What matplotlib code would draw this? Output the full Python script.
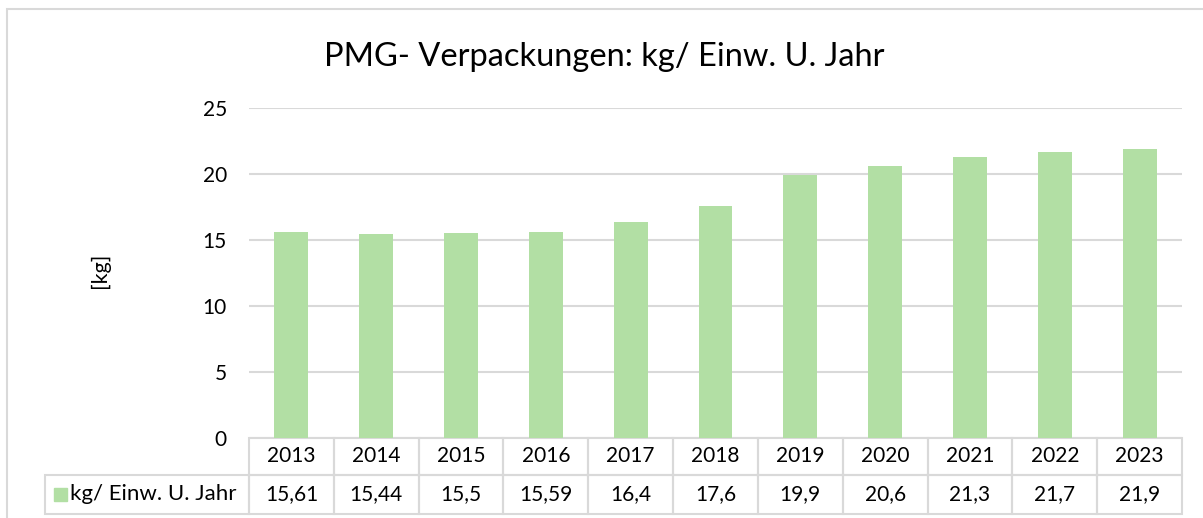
import matplotlib
matplotlib.use('Agg')
import matplotlib.pyplot as plt
from matplotlib.patches import Rectangle
from matplotlib.transforms import blended_transform_factory

# data
years = ["2013", "2014", "2015", "2016", "2017", "2018", "2019", "2020", "2021", "2022", "2023"]
values = [15.61, 15.44, 15.5, 15.59, 16.4, 17.6, 19.9, 20.6, 21.3, 21.7, 21.9]
value_labels = ["15,61", "15,44", "15,5", "15,59", "16,4", "17,6", "19,9", "20,6", "21,3", "21,7", "21,9"]
series_name = "kg/ Einw. U. Jahr"
title = "PMG- Verpackungen: kg/ Einw. U. Jahr"

W, H = 1203, 518
bar_color = "#B2DFA4"
grid_color = "#D9D9D9"
plt.rcParams['font.family'] = ['Lato', 'DejaVu Sans']

fig = plt.figure(figsize=(W / 100, H / 100), dpi=100)

# axes box in pixels
x0, x1 = 249, 1182
y_top, y_bot = 108, 438
ax = fig.add_axes([x0 / W, 1 - y_bot / H, (x1 - x0) / W, (y_bot - y_top) / H])

xs = range(len(years))
ax.bar(xs, values, width=0.40, color=bar_color, zorder=3)
ax.set_xlim(-0.5, len(years) - 0.5)
ax.set_ylim(0, 25)
ax.set_yticks([0, 5, 10, 15, 20, 25])
ax.yaxis.grid(True, color=grid_color, linewidth=1.5, zorder=0)
ax.tick_params(axis='y', length=0, labelsize=15, pad=16)
ax.set_xticks([])
for s in ax.spines.values():
    s.set_visible(False)

fig.text(604 / W, 1 - 57 / H, title, fontsize=23.5, ha='center', va='center')
fig.text(100 / W, 1 - 270 / H, "[kg]", rotation=90, fontsize=15.5, ha='center', va='center')

# data table below the plot (x in data units, y in axes units)
ax_h = y_bot - y_top
ax_w = x1 - x0
row1 = (475 - y_bot) / ax_h
row2 = (514 - y_bot) / ax_h
tr = blended_transform_factory(ax.transData, ax.transAxes)
cell_kw = dict(transform=tr, fill=False, edgecolor=grid_color, linewidth=1.5, clip_on=False)
for i, (yr, lab) in enumerate(zip(years, value_labels)):
    ax.add_patch(Rectangle((i - 0.5, -row1), 1, row1, **cell_kw))
    ax.add_patch(Rectangle((i - 0.5, -row2), 1, row2 - row1, **cell_kw))
    ax.text(i, -row1 / 2, yr, transform=tr, fontsize=15, ha='center', va='center')
    ax.text(i, -(row1 + row2) / 2, lab, transform=tr, fontsize=15, ha='center', va='center')

# row label cell with legend key
lab_left = (45 - x0) / ax_w
ax.add_patch(Rectangle((lab_left, -row2), -lab_left, row2 - row1, transform=ax.transAxes,
                       fill=False, edgecolor=grid_color, linewidth=1.5, clip_on=False))
ax.add_patch(Rectangle(((54 - x0) / ax_w, -(501 - y_bot) / ax_h), 13 / ax_w, 13 / ax_h,
                       transform=ax.transAxes, color=bar_color, clip_on=False))
ax.text((70 - x0) / ax_w, -(494 - y_bot) / ax_h, series_name, transform=ax.transAxes,
        fontsize=16, ha='left', va='center')

# outer chart border
fig.add_artist(Rectangle((7 / W, -0.1), 1.2, 1 - 9 / H + 0.1, transform=fig.transFigure,
                         fill=False, edgecolor=grid_color, linewidth=1.5))

fig.savefig("out.png", dpi=100)
